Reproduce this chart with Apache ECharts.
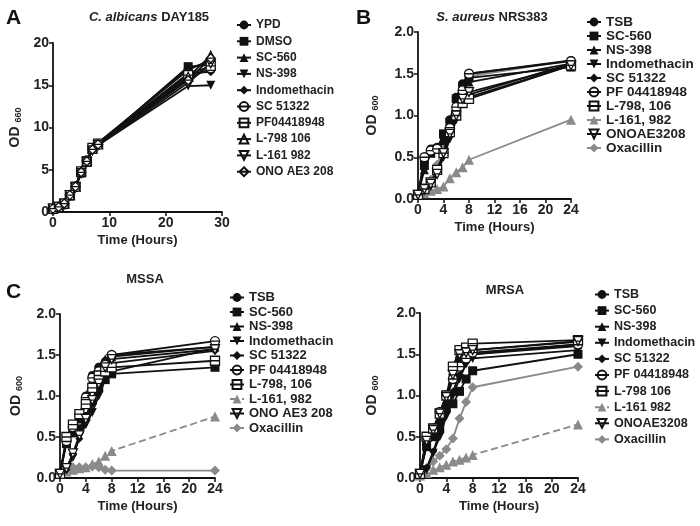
<!DOCTYPE html>
<html>
<head>
<meta charset="utf-8">
<script src="https://cdn.jsdelivr.net/npm/echarts@6/dist/echarts.min.js"></script>
<style>
  html, body { margin: 0; padding: 0; background: #fff; }
  #chart { width: 700px; height: 526px; }
</style>
</head>
<body>
<div id="chart"></div>
<script>
// time points (hours)
const hoursA = [0, 1, 2, 3, 4, 5, 6, 7, 8, 24, 28];
const hoursBCD = [0, 1, 2, 3, 4, 5, 6, 7, 8, 24];

// A: C. albicans DAY185, OD660
const namesA = ['YPD', 'DMSO', 'SC-560', 'NS-398', 'Indomethacin', 'SC 51322', 'PF04418948', 'L-798 106', 'L-161 982', 'ONO AE3 208'];
const valuesA = [
    [0.4, 0.6, 0.9, 2.0, 2.9, 4.8, 6.0, 7.6, 8.1, 17.0, 17.8],
    [0.4, 0.6, 1.0, 2.0, 3.0, 4.6, 6.1, 7.4, 8.0, 17.2, 17.4],
    [0.3, 0.5, 1.0, 1.9, 3.1, 4.7, 5.9, 7.5, 8.2, 16.8, 18.0],
    [0.4, 0.6, 1.0, 2.0, 2.9, 4.7, 6.0, 7.3, 7.9, 14.9, 15.0],
    [0.4, 0.6, 1.0, 2.1, 3.0, 4.9, 6.0, 7.4, 8.1, 16.4, 16.6],
    [0.3, 0.5, 0.9, 2.0, 3.0, 4.7, 6.1, 7.5, 8.0, 15.8, 17.0],
    [0.4, 0.6, 1.0, 2.0, 3.0, 4.8, 6.0, 7.6, 8.1, 16.2, 17.3],
    [0.4, 0.6, 1.0, 2.0, 3.0, 4.8, 6.0, 7.5, 8.0, 16.0, 18.5],
    [0.4, 0.6, 1.0, 2.0, 2.9, 4.6, 5.9, 7.3, 7.9, 15.3, 17.6],
    [0.4, 0.6, 1.0, 2.0, 3.0, 4.7, 6.0, 7.4, 8.0, 15.6, 18.2]
];

// B: S. aureus NRS383, OD600
const namesB = ['TSB', 'SC-560', 'NS-398', 'Indomethacin', 'SC 51322', 'PF 04418948', 'L-798, 106', 'L-161, 982', 'ONOAE3208', 'Oxacillin'];
const valuesB = [
    [0.05, 0.45, 0.60, 0.62, 0.75, 0.95, 1.22, 1.38, 1.50, 1.66],
    [0.05, 0.40, 0.55, 0.60, 0.78, 0.92, 1.20, 1.35, 1.45, 1.58],
    [0.05, 0.35, 0.55, 0.60, 0.70, 0.90, 1.15, 1.30, 1.40, 1.62],
    [0.05, 0.10, 0.15, 0.30, 0.50, 0.72, 0.95, 1.15, 1.22, 1.60],
    [0.05, 0.10, 0.17, 0.32, 0.52, 0.75, 0.98, 1.20, 1.25, 1.62],
    [0.05, 0.50, 0.58, 0.60, 0.55, 0.85, 1.10, 1.30, 1.50, 1.65],
    [0.05, 0.12, 0.20, 0.35, 0.55, 0.80, 1.00, 1.15, 1.20, 1.60],
    [0.05, 0.07, 0.10, 0.12, 0.15, 0.25, 0.32, 0.38, 0.47, 0.95],
    [0.05, 0.12, 0.18, 0.30, 0.55, 0.78, 1.00, 1.20, 1.28, 1.60],
    [0.05, 0.12, 0.23, 0.41, 0.62, 0.92, 1.18, 1.36, 1.47, 1.66]
];

// C: MSSA, OD600
const namesC = ['TSB', 'SC-560', 'NS-398', 'Indomethacin', 'SC 51322', 'PF 04418948', 'L-798, 106', 'L-161, 982', 'ONO AE3 208', 'Oxacillin'];
const valuesC = [
    [0.05, 0.45, 0.60, 0.75, 1.00, 1.25, 1.35, 1.42, 1.50, 1.60],
    [0.05, 0.42, 0.55, 0.60, 0.75, 0.95, 1.10, 1.20, 1.27, 1.35],
    [0.05, 0.48, 0.58, 0.72, 0.95, 1.20, 1.35, 1.45, 1.48, 1.60],
    [0.05, 0.10, 0.25, 0.50, 0.65, 0.80, 1.00, 1.20, 1.30, 1.58],
    [0.05, 0.10, 0.28, 0.48, 0.70, 0.90, 1.10, 1.30, 1.40, 1.55],
    [0.05, 0.45, 0.62, 0.78, 0.98, 1.22, 1.30, 1.38, 1.50, 1.67],
    [0.05, 0.50, 0.65, 0.78, 0.90, 1.10, 1.25, 1.30, 1.35, 1.43],
    [0.05, 0.08, 0.10, 0.12, 0.13, 0.17, 0.20, 0.27, 0.33, 0.75],
    [0.05, 0.12, 0.30, 0.52, 0.72, 0.95, 1.15, 1.35, 1.45, 1.57],
    [0.05, 0.10, 0.13, 0.13, 0.13, 0.14, 0.13, 0.10, 0.09, 0.09]
];

// D: MRSA, OD600
const namesD = ['TSB', 'SC-560', 'NS-398', 'Indomethacin', 'SC 51322', 'PF 04418948', 'L-798 106', 'L-161 982', 'ONOAE3208', 'Oxacillin'];
const valuesD = [
    [0.05, 0.40, 0.55, 0.75, 1.00, 1.25, 1.45, 1.50, 1.55, 1.65],
    [0.05, 0.38, 0.50, 0.60, 0.85, 0.90, 1.05, 1.20, 1.30, 1.50],
    [0.05, 0.45, 0.55, 0.70, 0.95, 1.20, 1.40, 1.48, 1.50, 1.62],
    [0.05, 0.10, 0.30, 0.50, 0.75, 1.00, 1.20, 1.38, 1.45, 1.55],
    [0.05, 0.12, 0.32, 0.55, 0.80, 1.05, 1.25, 1.40, 1.50, 1.60],
    [0.05, 0.48, 0.60, 0.80, 1.00, 1.20, 1.35, 1.45, 1.52, 1.62],
    [0.05, 0.50, 0.60, 0.78, 1.00, 1.35, 1.55, 1.58, 1.63, 1.67],
    [0.03, 0.06, 0.10, 0.13, 0.16, 0.20, 0.22, 0.25, 0.28, 0.65],
    [0.05, 0.45, 0.58, 0.78, 0.98, 1.25, 1.50, 1.52, 1.55, 1.66],
    [0.05, 0.12, 0.20, 0.27, 0.35, 0.48, 0.72, 0.92, 1.10, 1.35]
];

const FONT = 'Liberation Sans, Arial, Helvetica, sans-serif';
const BLACK = '#111';
const GRAY = '#8a8a8a';

// marker shapes
const itri = 'path://M0,0L10,0L5,9Z';
const oCircle = 'path://M0,5A5,5,0,1,1,10,5A5,5,0,1,1,0,5ZM0,5L10,5';
const oSquare = 'path://M0,0L10,0L10,10L0,10ZM0,5L10,5';
const oTri = 'path://M5,0L10,9L0,9ZM2.5,4.5L7.5,4.5';
const oItri = 'path://M0,0L10,0L5,9ZM2.5,4.5L7.5,4.5';
const oDia = 'path://M5,0L10,5L5,10L0,5ZM0,5L10,5';

// [symbol, size, open, color]
const stylesA = [
    ['circle', 9, false, BLACK], ['rect', 9, false, BLACK], ['triangle', 9, false, BLACK],
    [itri, 9, false, BLACK], ['diamond', 9, false, BLACK], [oCircle, 9, true, BLACK],
    [oSquare, 9, true, BLACK], [oTri, 9, true, BLACK], [oItri, 9, true, BLACK], [oDia, 9, true, BLACK]
];
const stylesBCD = [
    ['circle', 9, false, BLACK], ['rect', 9, false, BLACK], ['triangle', 9, false, BLACK],
    [itri, 9, false, BLACK], ['diamond', 8, false, BLACK], [oCircle, 9, true, BLACK],
    [oSquare, 9, true, BLACK], ['triangle', 10, false, GRAY], [oItri, 9, true, BLACK], ['diamond', 10, false, GRAY]
];

// series names carry a panel prefix so each legend picks its own series
const key = (p, name) => p + '|' + name;

function makeSeries(idx, p, names, hours, values, styles, dashedIdx) {
    return names.map((name, i) => {
        const st = styles[i];
        return {
            type: 'line',
            name: key(p, name),
            xAxisIndex: idx,
            yAxisIndex: idx,
            data: hours.map((h, k) => [h, values[i][k]]),
            symbol: st[0],
            symbolSize: st[1],
            z: st[3] === GRAY ? 2 : 3,
            lineStyle: { color: st[3], width: 1.8, type: i === dashedIdx ? 'dashed' : 'solid' },
            itemStyle: {
                color: st[2] ? '#fff' : st[3],
                borderColor: st[3],
                borderWidth: st[2] ? 1.3 : 0
            },
            emphasis: { disabled: true },
            animation: false
        };
    });
}

const grids = [
    { left: 53, top: 43, width: 169, height: 169 },
    { left: 418, top: 32, width: 153, height: 167 },
    { left: 60, top: 314, width: 155, height: 164 },
    { left: 420, top: 313, width: 158, height: 165 }
];

const axisBase = {
    type: 'value',
    splitLine: { show: false },
    axisLine: { show: true, onZero: false, lineStyle: { color: BLACK, width: 1.8 } },
    axisTick: { show: true, length: 4, lineStyle: { color: BLACK, width: 1.5 } },
    axisLabel: { color: '#222', fontFamily: FONT, fontWeight: 'bold', fontSize: 14, margin: 4 },
    nameLocation: 'middle',
    nameTextStyle: { color: '#222', fontFamily: FONT, fontWeight: 'bold', fontSize: 13 }
};

function xAxisFor(idx, max, interval, gap) {
    return Object.assign({}, axisBase, {
        gridIndex: idx, min: 0, max: max, interval: interval,
        name: 'Time (Hours)', nameGap: gap
    });
}
function yAxisFor(idx, max, interval, sub, gap, fmt) {
    return Object.assign({}, axisBase, {
        gridIndex: idx, min: 0, max: max, interval: interval,
        name: 'OD {s|' + sub + '}', nameGap: gap, nameRotate: 90,
        axisLabel: Object.assign({}, axisBase.axisLabel, { formatter: fmt }),
        nameTextStyle: {
            color: '#222', fontFamily: FONT, fontWeight: 'bold', fontSize: 14,
            rich: { s: { fontFamily: FONT, fontWeight: 'bold', fontSize: 9, color: '#222', padding: [7, 0, 0, 0] } }
        }
    });
}

const one = v => v.toFixed(1);

function legendFor(p, names, left, top, gap, size) {
    return {
        data: names.map(n => key(p, n)),
        formatter: n => n.slice(n.indexOf('|') + 1),
        orient: 'vertical', left: left, top: top,
        itemGap: gap, itemWidth: 14, itemHeight: 11,
        selectedMode: false, padding: 0,
        textStyle: { fontFamily: FONT, fontWeight: 'bold', fontSize: size, color: '#222', lineHeight: 11 }
    };
}

const titleStyle = { fontFamily: FONT, fontWeight: 'bold', fontSize: 13, color: '#222' };
const letterStyle = { fontFamily: FONT, fontWeight: 'bold', fontSize: 21, color: '#111' };
const italicRich = { i: Object.assign({}, titleStyle, { fontStyle: 'italic' }) };

const option = {
    backgroundColor: '#fff',
    animation: false,
    title: [
        { text: 'A', left: 1, top: 3, textStyle: letterStyle },
        { text: 'B', left: 351, top: 3, textStyle: letterStyle },
        { text: 'C', left: 1, top: 277, textStyle: letterStyle },
        { text: '{i|C. albicans} DAY185', left: 144, top: 6, textAlign: 'center',
          textStyle: Object.assign({}, titleStyle, { rich: italicRich }) },
        { text: '{i|S. aureus} NRS383', left: 487, top: 6, textAlign: 'center',
          textStyle: Object.assign({}, titleStyle, { rich: italicRich }) },
        { text: 'MSSA', left: 140, top: 268, textAlign: 'center', textStyle: titleStyle },
        { text: 'MRSA', left: 500, top: 279, textAlign: 'center', textStyle: titleStyle }
    ],
    legend: [
        legendFor('A', namesA, 236, 19, 4.3, 12),
        legendFor('B', namesB, 586, 15, 0, 13.5),
        legendFor('C', namesC, 229, 291, 1.5, 13),
        legendFor('D', namesD, 594, 288, 3.1, 12.5)
    ],
    grid: grids.map(g => Object.assign({ outerBoundsMode: 'none', containLabel: false }, g)),
    xAxis: [
        xAxisFor(0, 30, 10, 22),
        xAxisFor(1, 24, 4, 22),
        xAxisFor(2, 24, 4, 22),
        xAxisFor(3, 24, 4, 22)
    ],
    yAxis: [
        yAxisFor(0, 20, 5, '660', 30, v => String(v)),
        yAxisFor(1, 2, 0.5, '600', 38, one),
        yAxisFor(2, 2, 0.5, '600', 36, one),
        yAxisFor(3, 2, 0.5, '600', 40, one)
    ],
    series: [].concat(
        makeSeries(0, 'A', namesA, hoursA, valuesA, stylesA, -1),
        makeSeries(1, 'B', namesB, hoursBCD, valuesB, stylesBCD, -1),
        makeSeries(2, 'C', namesC, hoursBCD, valuesC, stylesBCD, 7),
        makeSeries(3, 'D', namesD, hoursBCD, valuesD, stylesBCD, 7)
    )
};

const chart = echarts.init(document.getElementById('chart'), null, { renderer: 'canvas' });
chart.setOption(option);
</script>
</body>
</html>
